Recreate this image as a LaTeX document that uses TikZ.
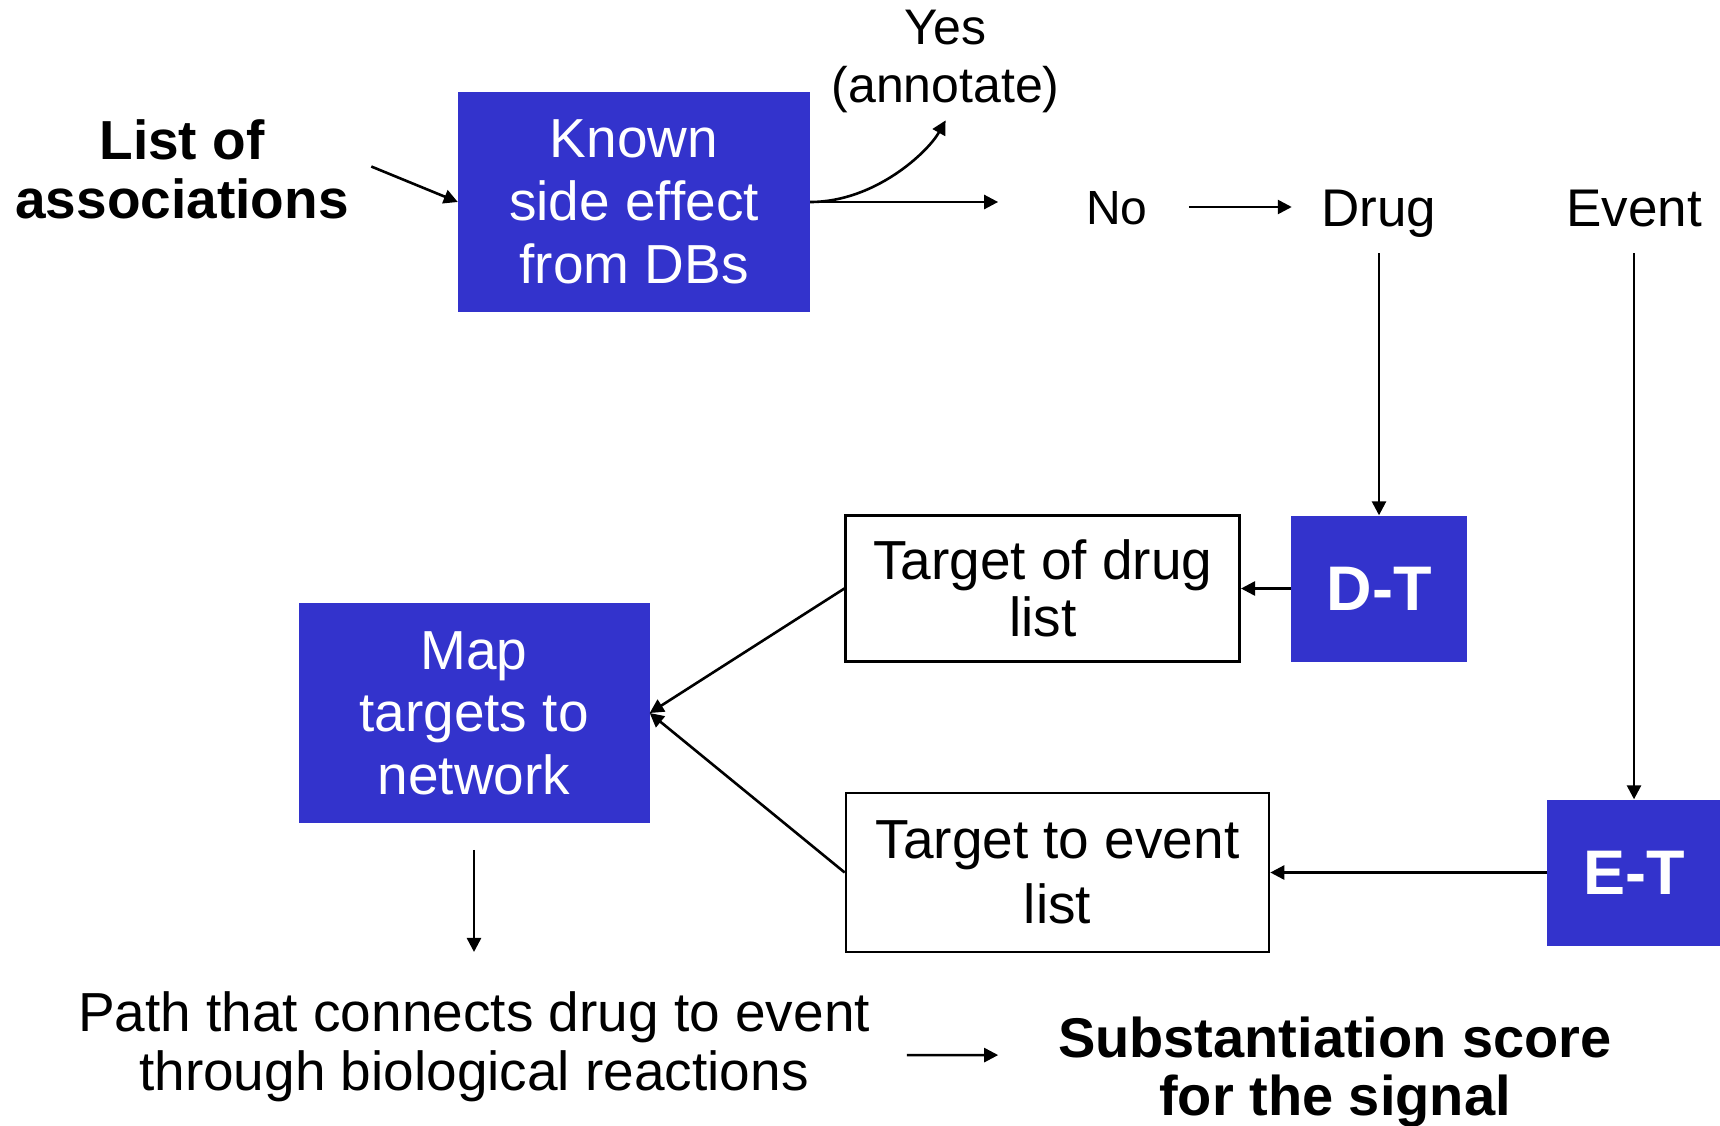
\documentclass[tikz,border=0pt]{standalone}
\usepackage{fontspec}
\setmainfont{Liberation Sans}
\usetikzlibrary{arrows.meta}
\definecolor{boxblue}{RGB}{51,51,204}
\begin{document}
\begin{tikzpicture}[x=1pt,y=-1pt,
  arr/.style={-{Triangle[length=14pt,width=14pt]}, line width=2.6pt},
  bluebox/.style={fill=boxblue, text=white, inner sep=0pt, align=center},
  whitebox/.style={draw=black, line width=2.6pt, fill=white, inner sep=0pt, align=center},
  lbl/.style={inner sep=0pt, text depth=0pt},
  txt/.style={inner sep=0pt, align=center}
  ]
\useasboundingbox (0,0) rectangle (1720,1125);

% nodes
\node[txt, font=\bfseries\fontsize{55}{59}\selectfont] (List) at (182,169.5) {List of\\associations};
\node[bluebox, minimum width=352pt, minimum height=220pt, font=\fontsize{55}{63}\selectfont] (Known) at (634,202) {Known\\side effect\\from DBs};
\node[txt, font=\fontsize{50}{58}\selectfont] (Yes) at (945.6,61.8) {Yes\\(annotate)};
\node[lbl, text height=34.5pt, font=\fontsize{48}{58}\selectfont] (No) at (1117,207) {No};
\node[lbl, text height=38pt, font=\fontsize{53}{60}\selectfont] (Drug) at (1379,207) {Drug};
\node[lbl, text height=38pt, font=\fontsize{53}{60}\selectfont] (Event) at (1634,207) {Event};
\node[bluebox, minimum width=176pt, minimum height=146pt, font=\bfseries\fontsize{63}{70}\selectfont] (DT) at (1379,588.5) {D-T};
\node[bluebox, minimum width=174pt, minimum height=146pt, font=\bfseries\fontsize{63}{70}\selectfont] (ET) at (1634,872.5) {E-T};
\node[whitebox, minimum width=394pt, minimum height=146pt, font=\fontsize{55}{57}\selectfont] (TD) at (1042.7,588.5) {Target of drug\\list};
\node[whitebox, minimum width=423pt, minimum height=159pt, font=\fontsize{55}{65.5}\selectfont] (TE) at (1057.5,872.5) {Target to event\\list};
\node[bluebox, minimum width=351pt, minimum height=219.4pt, font=\fontsize{55}{62.5}\selectfont] (Map) at (474,713) {Map\\targets to\\network};
\node[txt, font=\fontsize{55}{59}\selectfont] (Path) at (474,1046.8) {Path that connects drug to event\\through biological reactions};
\node[txt, font=\bfseries\fontsize{56}{58}\selectfont] (Subst) at (1335,1072) {Substantiation score\\for the signal};

% connectors
\draw[arr] ([xshift=22.5pt,yshift=3pt]List.east) -- (Known.west);
\draw[arr] (Known.east) .. controls (875,202) and (928,152) .. ([yshift=-7pt]Yes.south);
\draw[arr, shorten >=88pt] (Known.east) -- (Known.east -| No.west);
\draw[arr, shorten <=41pt, shorten >=29.6pt] (No) -- (Drug);
\draw[arr, shorten <=27pt] (Drug) -- (DT);
\draw[arr, shorten <=27pt] (Event) -- (ET);
\draw[arr] (DT) -- (TD);
\draw[arr] (ET) -- (TE);
\draw[arr] (TD.west) -- (Map.east);
\draw[arr] (TE.west) -- (Map.east);
\draw[arr, shorten <=27pt, shorten >=39.5pt] (Map) -- (Path);
\draw[arr, shorten <=36.6pt, shorten >=59.7pt] ([yshift=-8.4pt]Path.east) -- ([yshift=17pt]Subst.west);
\end{tikzpicture}
\end{document}
